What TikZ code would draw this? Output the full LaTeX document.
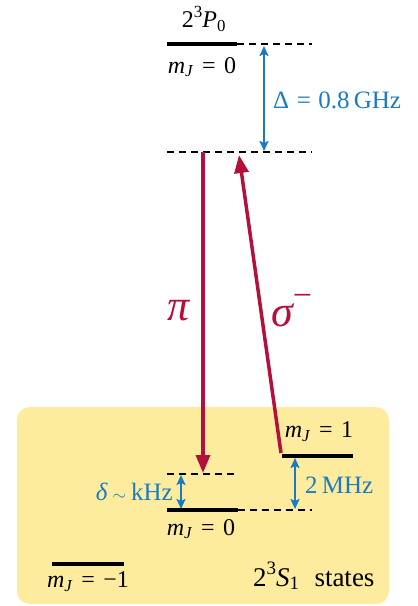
\documentclass[tikz,border=0pt]{standalone}
\usepackage{fontspec}
\setmainfont{Liberation Serif}
\usetikzlibrary{arrows.meta}
\definecolor{boxyellow}{HTML}{FDEC9E}
\definecolor{laserred}{HTML}{B3113C}
\definecolor{splitblue}{HTML}{1A7BC4}
\newcommand{\mJ}[1]{\textit{m}\textsubscript{\textit{J}}\hspace{0.35em}=\hspace{0.35em}#1}
\newcommand{\supr}[1]{\raisebox{0.42em}{\fontsize{17}{20}\selectfont #1}}
\tikzset{
  level/.style={line width=4pt},
  dashlevel/.style={line width=1.4pt, dash pattern=on 7pt off 5pt},
  laser/.style={draw=laserred, line width=3.5pt, -{Triangle[width=14pt,length=18pt]}},
  split/.style={draw=splitblue, line width=2pt, {Stealth[width=9pt,length=10pt,inset=2pt]}-{Stealth[width=9pt,length=10pt,inset=2pt]}},
  lbl/.style={font=\fontsize{24}{28}\selectfont, inner sep=0pt},
  bluelbl/.style={font=\fontsize{25}{29}\selectfont, text=splitblue, inner sep=0pt},
  greek/.style={font=\fontsize{44}{50}\selectfont\itshape, text=laserred, inner sep=0pt}
}
\begin{document}
\begin{tikzpicture}[x=1pt,y=-1pt]
\useasboundingbox (0,0) rectangle (418,606);
% yellow region
\fill[boxyellow, rounded corners=13pt] (17,407) rectangle (389,604);
% coordinates
\coordinate (P0L) at (167,44);
\coordinate (P0R) at (237,44);
\coordinate (P0D) at (312,44);
\coordinate (VL) at (167,152);
\coordinate (VR) at (312,152);
\coordinate (DL) at (167,474);
\coordinate (DR) at (238,474);
\coordinate (S0L) at (167,510);
\coordinate (S0R) at (238,510);
\coordinate (S0D) at (312,510);
\coordinate (S1L) at (282,456);
\coordinate (S1R) at (353,456);
\coordinate (SmL) at (52,564);
\coordinate (SmR) at (124,564);
% levels
\draw[level] (P0L) -- (P0R);
\draw[dashlevel] (P0R) -- (P0D);
\draw[dashlevel] (VL) -- (VR);
\draw[dashlevel] (DL) -- (DR);
\draw[level] (S0L) -- (S0R);
\draw[dashlevel] (S0R) -- (S0D);
\draw[level] (S1L) -- (S1R);
\draw[level] (SmL) -- (SmR);
% splittings
\coordinate (DeltaT) at (264,46);
\coordinate (DeltaB) at (264,151);
\draw[split] (DeltaT) -- (DeltaB);
\coordinate (delT) at (181,475);
\coordinate (delB) at (181,509);
\draw[split] (delT) -- (delB);
\coordinate (MHzT) at (295,458);
\coordinate (MHzB) at (295,509);
\draw[split] (MHzT) -- (MHzB);
% lasers
\coordinate (piS) at (203,152);
\coordinate (piE) at (203,473);
\draw[laser] (piS) -- (piE);
\coordinate (sgS) at (281,453);
\coordinate (sgE) at (239,155);
\draw[laser] (sgS) -- (sgE);
% labels
\node[lbl] (tP) at (204,19) {2\supr{3}\textit{P}\textsubscript{0}};
\node[lbl] (tm0a) at (202,67) {\mJ{0}};
\node[bluelbl, anchor=west] (tDelta) at (273,100) {Δ\hspace{0.3em}=\hspace{0.3em}0.8\,GHz};
\node[greek] (tpi) at (179,311) {π};
\node[greek, anchor=west] (tsig) at (271,311) {σ\raisebox{0.45em}{\fontsize{34}{38}\selectfont\upshape −}};
\node[lbl] (tm1) at (319,432) {\mJ{1}};
\node[bluelbl, anchor=east] (tdel) at (173,492) {\textit{δ}\hspace{0.2em}{\fontsize{18}{20}\selectfont$\sim$}\hspace{0.2em}kHz};
\node[bluelbl, anchor=west] (tMHz) at (305,485) {2\,MHz};
\node[lbl] (tm0b) at (201,529) {\mJ{0}};
\node[lbl] (tmm) at (88,582) {\mJ{−1}};
\node[lbl, font=\fontsize{27}{31}\selectfont, anchor=west] (tS) at (253,576) {2\raisebox{0.42em}{\fontsize{19}{22}\selectfont 3}\textit{S}\textsubscript{1}\hspace{0.55em}states};
\end{tikzpicture}
\end{document}
